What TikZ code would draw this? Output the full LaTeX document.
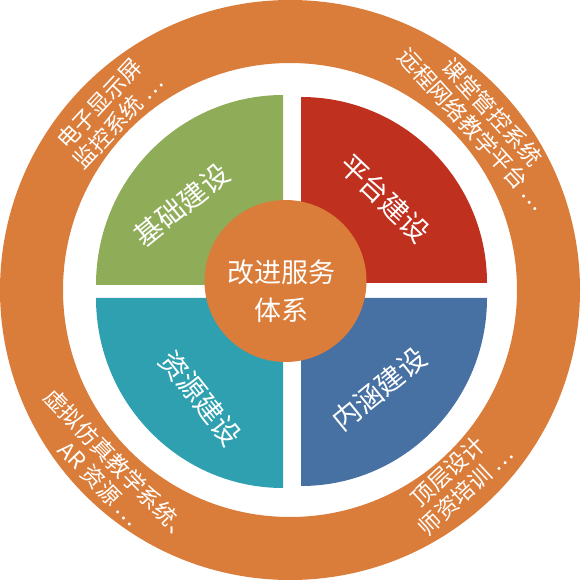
\documentclass[tikz,border=0pt]{standalone}
\usepackage{fontspec}
\setmainfont{Noto Sans CJK SC}
\definecolor{ringor}{RGB}{219,125,58}
\definecolor{qgreen}{RGB}{143,172,88}
\definecolor{qred}{RGB}{192,48,30}
\definecolor{qteal}{RGB}{46,160,176}
\definecolor{qblue}{RGB}{71,112,163}
\tikzset{
  ringtext/.style={text=white, align=center, inner sep=0pt, font=\fontsize{22.5}{26}\selectfont},
  quadtext/.style={text=white, align=center, inner sep=0pt, font=\fontsize{28}{34}\selectfont},
  coretext/.style={text=white, align=center, inner sep=0pt, font=\fontsize{27}{38}\selectfont}
}
\begin{document}
\begin{tikzpicture}[x=1pt,y=1pt]
\useasboundingbox (-290,-290) rectangle (290,290);
% outer ring
\fill[ringor, even odd rule] (0,0) circle (290) (0,0) circle (227);
% quadrants
\fill[qgreen] (-7,5) -- ++(-187,0) arc[start angle=180,end angle=90,x radius=187,y radius=190] -- cycle;
\fill[qred] (11,7) -- ++(0,186) arc[start angle=90,end angle=0,radius=186] -- cycle;
\fill[qteal] (-7,-8) -- ++(-187,0) arc[start angle=180,end angle=270,x radius=187,y radius=190] -- cycle;
\fill[qblue] (11,-8) -- ++(186,0) arc[start angle=0,end angle=-90,x radius=186,y radius=188] -- cycle;
% core
\node[circle, fill=ringor, minimum size=162pt, inner sep=0pt] (core) at (-4.5,9) {};
\node[coretext] (coretxt) at (-9,-1) {改进服务\\体系};
% quadrant labels
\node[quadtext, rotate=39] (qa) at (-108.3,85) {基础建设};
\node[quadtext, rotate=-43.5] (qb) at (95,91.7) {平台建设};
\node[quadtext, rotate=-51.5] (qc) at (-89.2,-108.3) {资源建设};
\node[quadtext, rotate=39] (qd) at (89.2,-99.2) {内涵建设};
% ring labels
\node[ringtext, rotate=47] (ra) at (-181.3,177.5) {电子显示屏\\监控系统 …};
\node[ringtext, rotate=-48] (rb) at (192.7,169.4) {课堂管控系统\\远程网络教学平台 …};
\node[ringtext, rotate=-46] (rc) at (-180.6,-184.5) {虚拟仿真教学系统、\\AR 资源 …};
\node[ringtext, rotate=43] (rd) at (166.7,-190.8) {顶层设计\\师资培训 …};
\end{tikzpicture}
\end{document}
